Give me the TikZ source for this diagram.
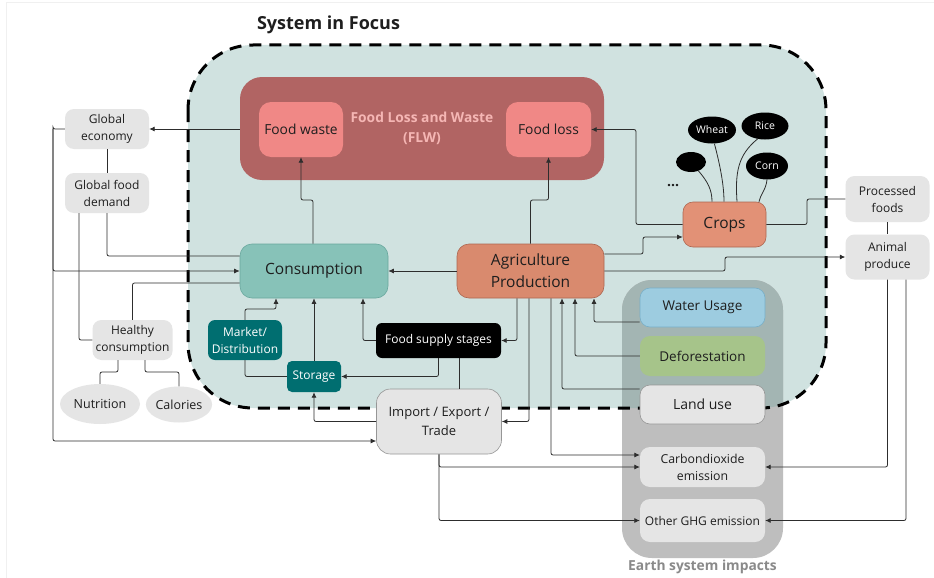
\documentclass[tikz,border=0pt]{standalone}
\usepackage{fontspec}
\setmainfont{Open Sans}
\usetikzlibrary{arrows.meta,shapes.geometric}
\definecolor{tealbg}{RGB}{208,226,224}
\definecolor{flwred}{RGB}{177,100,99}
\definecolor{flwpink}{RGB}{240,136,134}
\definecolor{flwtitle}{RGB}{245,182,180}
\definecolor{consfill}{RGB}{135,194,184}
\definecolor{consline}{RGB}{105,168,158}
\definecolor{agrifill}{RGB}{217,138,110}
\definecolor{agriline}{RGB}{172,102,80}
\definecolor{cropfill}{RGB}{226,145,118}
\definecolor{darkteal}{RGB}{0,110,112}
\definecolor{lightgray}{RGB}{229,229,229}
\definecolor{panelgray}{RGB}{190,190,190}
\definecolor{paneltealgray}{RGB}{163,181,179}
\definecolor{waterfill}{RGB}{157,204,224}
\definecolor{waterline}{RGB}{120,175,200}
\definecolor{defofill}{RGB}{166,196,138}
\definecolor{boxline}{RGB}{150,150,150}
\definecolor{conn}{RGB}{45,45,45}
\definecolor{txt}{RGB}{30,30,30}
\definecolor{labelgray}{RGB}{138,138,138}
\newcommand{\fsz}[2]{\fontsize{#1}{#2}\selectfont}
\begin{document}
\begin{tikzpicture}[x=1pt,y=-1pt,
  rbox/.style={rectangle, align=center, inner sep=0pt, text=txt},
  graybox/.style={rbox, fill=lightgray, rounded corners=9pt, font=\fsz{12}{17}},
  impbox/.style={rbox, minimum width=125pt, rounded corners=10pt},
  blob/.style={ellipse, fill=black, inner sep=0pt, text=white, font=\fsz{10.5}{12}},
  oval/.style={ellipse, fill=lightgray, inner sep=0pt, text=txt, font=\fsz{12.5}{15}},
  conline/.style={draw=conn, line width=0.8pt, rounded corners=2pt},
  arr/.style={conline, -{Latex[length=5.5pt,width=5pt]}},
]
\useasboundingbox (0,0) rectangle (934,578);
\fill[white] (0,0) rectangle (934,578);
\draw[gray!12, line width=0.6pt] (6.5,578) -- (6.5,2) -- (934,2);

% system in focus region
\fill[tealbg] (188,45) [rounded corners=65pt] rectangle (826,408);
% earth system impacts panel
\fill[panelgray] (622,280) [rounded corners=30pt] rectangle (783,558);
\begin{scope}
  \clip (188,45) [rounded corners=65pt] rectangle (826,408);
  \fill[paneltealgray] (622,280) [rounded corners=30pt] rectangle (783,558);
\end{scope}
\draw[black, line width=3pt, dash pattern=on 12pt off 8pt] (188,45) [rounded corners=65pt] rectangle (826,408);

\node[font=\bfseries\fsz{18}{20}, text=txt] (title) at (328.5,25) {System in Focus};
\node[font=\bfseries\fsz{13.8}{15}, text=labelgray] (earthlabel) at (702.5,567) {Earth system impacts};

% FLW
\node[rbox, fill=flwred, rounded corners=22pt, minimum width=364pt, minimum height=103pt,
      text=flwtitle, font=\bfseries\fsz{13.8}{20}] (flw) at (422,128.5) {Food Loss and Waste\\(FLW)};
\node[rbox, fill=flwpink, rounded corners=12pt, minimum width=84pt, minimum height=55pt, font=\fsz{13.8}{16}] (fw) at (301,129.5) {Food waste};
\node[rbox, fill=flwpink, rounded corners=12pt, minimum width=85pt, minimum height=55pt, font=\fsz{13.8}{16}] (fl) at (548.5,129.5) {Food loss};

% main nodes
\node[rbox, fill=consfill, draw=consline, line width=0.6pt, rounded corners=12pt, minimum width=148pt, minimum height=54pt, font=\fsz{15.5}{22}] (cons) at (314,271) {Consumption};
\node[rbox, fill=agrifill, draw=agriline, line width=0.6pt, rounded corners=12pt, minimum width=147pt, minimum height=54pt, font=\fsz{15.5}{22}] (agri) at (530.5,271) {Agriculture\\Production};
\node[rbox, fill=cropfill, draw=agriline, line width=0.6pt, rounded corners=10pt, minimum width=83pt, minimum height=45pt, font=\fsz{15.5}{18}] (crops) at (724.5,224.5) {Crops};

\node[rbox, fill=darkteal, text=white, rounded corners=7pt, minimum width=74pt, minimum height=40pt, font=\fsz{12}{17}] (market) at (245,340) {Market/\\Distribution};
\node[rbox, fill=darkteal, text=white, rounded corners=5pt, minimum width=54pt, minimum height=31pt, font=\fsz{12}{14}] (storage) at (314,376.5) {Storage};
\node[rbox, fill=black, text=white, rounded corners=6pt, minimum width=125pt, minimum height=35pt, font=\fsz{12}{14}] (fss) at (438.5,340.5) {Food supply stages};
\node[rbox, fill=lightgray, draw=boxline, line width=0.6pt, rounded corners=14pt, minimum width=125pt, minimum height=65pt, font=\fsz{13}{19}] (trade) at (439,421.5) {Import / Export /\\Trade};

% crop ellipses
\node[blob, minimum width=48pt, minimum height=27pt] (wheat) at (712,130) {Wheat};
\node[blob, minimum width=47pt, minimum height=27pt] (rice) at (765,126) {Rice};
\node[blob, minimum width=42pt, minimum height=27pt] (corn) at (767,166) {Corn};
\node[blob, minimum width=30pt, minimum height=20pt] (blank) at (691,162) {};
\node[font=\bfseries\fsz{14}{14}, text=txt] (dots) at (673,186) {...};

% earth system impacts
\node[impbox, fill=waterfill, draw=waterline, line width=0.6pt, minimum height=39pt, font=\fsz{13.5}{16}] (water) at (702.5,307.5) {Water Usage};
\node[impbox, fill=defofill, minimum height=40pt, font=\fsz{13.5}{16}] (defo) at (702.5,356) {Deforestation};
\node[impbox, fill=lightgray, draw=boxline, line width=0.6pt, minimum height=39pt, font=\fsz{14}{16}] (land) at (702.5,404.5) {Land use};
\node[impbox, fill=lightgray, minimum height=40pt, font=\fsz{12.3}{17}] (co2) at (702.5,467) {Carbondioxide\\emission};
\node[impbox, fill=lightgray, minimum height=43pt, font=\fsz{12}{14}] (ghg) at (702.5,520.5) {Other GHG emission};

% left side
\node[graybox, minimum width=84pt, minimum height=40pt] (geco) at (107,129) {Global\\economy};
\node[graybox, minimum width=84pt, minimum height=40pt] (gfd) at (107,193) {Global food\\demand};
\node[graybox, minimum width=80pt, minimum height=40pt] (healthy) at (132.5,340) {Healthy\\consumption};
\node[oval, minimum width=80pt, minimum height=40pt] (nutrition) at (100,404) {Nutrition};
\node[oval, minimum width=66pt, minimum height=36pt] (calories) at (179,404.5) {Calories};

% right side
\node[graybox, minimum width=84pt, minimum height=46pt] (proc) at (887.5,199) {Processed\\foods};
\node[graybox, minimum width=84pt, minimum height=45pt] (animal) at (887.5,257) {Animal\\produce};

% connectors: FLW
\draw[arr] (flw.west |- geco.east) -- (geco.east);
\draw[arr] (cons.north -| 313,0) |- (fw.south |- 0,200) -- (fw.south);
\draw[arr] (agri.north) |- (fl.south |- 0,200) -- (fl.south);
\draw[arr] (crops.west) -| (fl.east -| 636,0) -- (fl.east);

% agriculture outputs
\draw[arr] (agri.east |- 0,254) -- (643,254) |- (crops.west |- 0,237);
\draw[arr] (agri.east |- 0,271) -- (725,271) |- (animal.west);
\draw[conline] (crops.east) -- (807,224.5) |- (proc.west);
\draw[conline] (proc.south) -- (animal.north);
\draw[arr] (animal.south) |- (co2.east);
\draw[arr] (animal.south -| 906,0) |- (ghg.east);
\draw[arr] (agri.west) -- (cons.east);

% left side
\draw[arr] (geco.west) -| (geco.west -| 53,0) |- (trade.west |- 0,441);
\draw[arr] (geco.west -| 53,0) |- (cons.west |- 0,271);
\draw[conline] (geco.south) -- (gfd.north);
\draw[conline] (gfd.south) |- (cons.west |- 0,256);
\draw[conline] (gfd.south -| 79,0) |- (healthy.west);
\draw[conline] (healthy.north) |- (cons.west |- 0,283);
\draw[conline] (healthy.south -| 118,0) -- (118,372) -| (nutrition.north);
\draw[conline] (healthy.south -| 145,0) -- (145,372) -| (calories.north);

% supply chain
\draw[arr] (market.north) |- (276,309) -- (cons.south -| 276,0);
\draw[arr] (storage.north) -- (cons.south);
\draw[conline] (market.south) |- (storage.west);
\draw[arr] (fss.south) |- (storage.east);
\draw[arr] (fss.west) -| (cons.south -| 363,0);
\draw[arr] (agri.south -| 517,0) |- (fss.east);
\draw[arr] (agri.south -| 529,0) |- (trade.east);
\draw[conline] (fss.south -| 459,0) -- (trade.north -| 459,0);
\draw[arr] (trade.west) -| (storage.south);

% earth impacts
\draw[arr] (agri.south -| 551,0) |- (co2.west |- 0,455);
\draw[arr] (water.west |- 0,322) -| (agri.south -| 594,0);
\draw[arr] (defo.west) -| (agri.south -| 575,0);
\draw[arr] (land.west |- 0,389) -| (agri.south -| 562,0);
\draw[arr] (trade.south) |- (co2.west |- 0,467);
\draw[arr] (trade.south) |- (ghg.west);

% crop strands
\draw[conline] (blank.-50) .. controls (708,182) and (712,190) .. (crops.north -| 712,0);
\draw[conline] (wheat.-80) .. controls (720,165) and (724,185) .. (crops.north -| 724,0);
\draw[conline] (rice.-120) .. controls (738,155) and (735,172) .. (crops.north -| 737,0);
\draw[conline] (corn.south) .. controls (766,190) and (760,195) .. (crops.north -| 759,0);
\end{tikzpicture}
\end{document}
